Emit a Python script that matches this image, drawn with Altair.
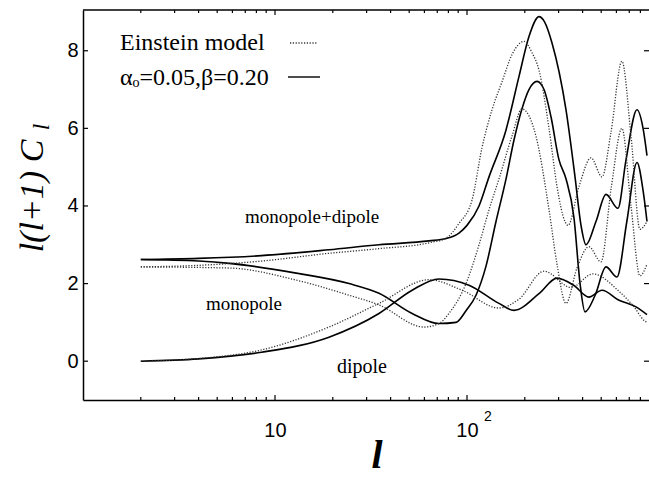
import altair as alt
import pandas as pd

# Plot-area size in pixels
W, H = 566, 390

# ---- angular power spectra l(l+1)C_l ----
# alpha0 = 0.05, beta = 0.20 model (solid)
l_md_ab = [2.0, 4.0, 8.5, 19.1, 34.8, 63.4, 77.8, 90.8, 100, 115.5, 130.2, 159.7, 186.6, 210.3,
           237.1, 253.0, 277.2, 327.7, 365.2, 392.5, 416.6, 469.6, 529.7, 611, 673, 768, 826, 866]
cl_md_ab = [2.62, 2.65, 2.72, 2.87, 3.0, 3.1, 3.16, 3.3, 3.5, 4.0, 4.75, 5.96, 7.34, 8.37,
            8.88, 8.75, 8.2, 6.48, 4.75, 3.5, 3.0, 3.6, 4.3, 3.94, 5.18, 6.48, 6.0, 5.3]

l_mono_ab = [2.0, 4.0, 5.8, 12.9, 24.3, 34.8, 51.8, 71.5, 87.7, 98.8, 111.4, 125.6, 141.6, 159.7,
             175.7, 193.2, 210.3, 231.6, 251.8, 273.8, 301, 327.7, 360.6, 388, 411.7, 465, 529.7,
             604, 680, 768, 826, 866]
cl_mono_ab = [2.62, 2.58, 2.52, 2.27, 2.0, 1.75, 1.23, 0.97, 1.0, 1.3, 1.7, 2.45, 3.6, 4.7,
              5.7, 6.5, 7.0, 7.21, 7.0, 6.3, 5.2, 4.7, 3.7, 2.0, 1.27, 1.7, 2.43,
              2.17, 3.6, 5.12, 4.4, 3.6]

l_dip_ab = [2.0, 4.0, 8.5, 19.1, 34.8, 51.8, 71.5, 102.4, 146.8, 175.7, 237.1, 294.3, 360.6,
            431.5, 504.6, 619, 759, 866]
cl_dip_ab = [0.0, 0.06, 0.23, 0.62, 1.23, 1.83, 2.12, 1.96, 1.49, 1.31, 1.74, 2.14, 1.95,
             1.65, 1.83, 1.57, 1.4, 1.2]

# Einstein model (dotted)
l_md_e = [2.0, 4.0, 8.5, 19.1, 34.8, 63.4, 77.8, 90.8, 106.2, 119.7, 135, 152.2, 171.5, 198.1,
          218.1, 237.1, 267.4, 294.3, 323.8, 335.7, 383, 442.6, 504.6, 562.3, 641, 715, 796, 866]
cl_md_e = [2.43, 2.47, 2.58, 2.78, 2.9, 3.05, 3.17, 3.55, 4.15, 5.5, 6.48, 7.2, 7.9, 8.24,
           7.95, 7.5, 6.0, 4.5, 3.6, 3.5, 4.5, 5.24, 4.75, 5.9, 7.73, 5.8, 3.4, 3.6]

l_mono_e = [2.0, 5.8, 12.9, 24.3, 34.8, 59.7, 71.5, 80.5, 98.8, 115.5, 130.2, 146.8, 171.5,
            193.2, 228.6, 267.4, 294.3, 327.7, 374, 431.5, 498.8, 565, 641, 715, 796, 866]
cl_mono_e = [2.43, 2.4, 2.09, 1.7, 1.45, 0.88, 0.97, 1.23, 2.0, 3.0, 3.9, 4.7, 5.8,
             6.5, 5.8, 3.9, 2.5, 1.49, 2.4, 2.95, 2.56, 4.5, 6.0, 4.0, 2.2, 2.5]

l_dip_e = [2.0, 4.0, 8.5, 19.1, 34.8, 63.4, 94.2, 146.8, 186.6, 251.8, 348.3, 453, 619, 741,
           836, 866]
cl_dip_e = [0.0, 0.07, 0.29, 0.88, 1.49, 2.1, 1.83, 1.37, 1.6, 2.32, 1.9, 2.25, 1.8, 1.4,
            1.05, 1.0]

# Axis tick positions
x_major = [10, 100]
x_minor = [2, 3, 4, 5, 6, 7, 8, 9, 20, 30, 40, 50, 60, 70, 80, 90,
           200, 300, 400, 500, 600, 700, 800]
y_ticks = [0, 2, 4, 6, 8]


def frame(l, cl, comp):
    return pd.DataFrame({"l": l, "cl": cl, "component": comp})


solid_df = pd.concat([
    frame(l_md_ab, cl_md_ab, "monopole+dipole"),
    frame(l_mono_ab, cl_mono_ab, "monopole"),
    frame(l_dip_ab, cl_dip_ab, "dipole"),
])
dotted_df = pd.concat([
    frame(l_md_e, cl_md_e, "monopole+dipole"),
    frame(l_mono_e, cl_mono_e, "monopole"),
    frame(l_dip_e, cl_dip_e, "dipole"),
])

x_scale = alt.Scale(type="log", domain=[1, 887], nice=False)
y_scale = alt.Scale(domain=[-1, 9.05], nice=False, zero=False)

SANS = "Liberation Sans"
SERIF = "Liberation Serif"

x_axis = alt.Axis(values=x_major, labelExpr="'10'", ticks=False, grid=False,
                  domainColor="black", domainWidth=1.5, labelFont=SANS,
                  labelFontSize=20, labelColor="black", labelPadding=20)
y_axis = alt.Axis(values=y_ticks, ticks=False, grid=False, domainColor="black",
                  domainWidth=1.5, labelFont=SANS, labelFontSize=20,
                  labelColor="black", labelPadding=5)

# Solid curves carry the axes; the other layers share those scales.
solid = alt.Chart(solid_df).mark_line(
    color="black", strokeWidth=1.6, interpolate="monotone"
).encode(
    x=alt.X("l:Q", scale=x_scale, axis=x_axis, title=None),
    y=alt.Y("cl:Q", scale=y_scale, axis=y_axis, title=None),
    detail="component:N",
)

dotted = alt.Chart(dotted_df).mark_line(
    color="#333333", strokeWidth=1.3, strokeDash=[1.2, 1.6], interpolate="monotone"
).encode(
    x=alt.X("l:Q", scale=x_scale, title=None),
    y=alt.Y("cl:Q", scale=y_scale, title=None),
    detail="component:N",
)


# Inward-pointing ticks on all four sides
def xticks(vals, y0, y1):
    return alt.Chart(pd.DataFrame({"l": vals})).mark_rule(
        color="black", strokeWidth=1.2
    ).encode(
        x=alt.X("l:Q", scale=x_scale, title=None),
        y=alt.value(y0), y2=alt.value(y1),
    )


def yticks(x0, x1):
    return alt.Chart(pd.DataFrame({"cl": y_ticks})).mark_rule(
        color="black", strokeWidth=1.2
    ).encode(
        y=alt.Y("cl:Q", scale=y_scale, title=None),
        x=alt.value(x0), x2=alt.value(x1),
    )


one = pd.DataFrame({"k": [0]})

top_line = alt.Chart(one).mark_rule(color="black", strokeWidth=1.5).encode(
    x=alt.value(0), x2=alt.value(W), y=alt.value(0)
)


def label(text, x, y, size, font=SERIF, **kw):
    return alt.Chart(one).mark_text(
        text=text, font=font, fontSize=size, color="black",
        align=kw.pop("align", "left"), baseline="alphabetic", **kw
    ).encode(x=alt.value(x), y=alt.value(y))


# Legend samples
leg_dotted = alt.Chart(one).mark_rule(
    color="#333333", strokeWidth=1.3, strokeDash=[1.2, 1.6]
).encode(x=alt.value(207), x2=alt.value(235), y=alt.value(33))
leg_solid = alt.Chart(one).mark_rule(color="black", strokeWidth=1.4).encode(
    x=alt.value(205), x2=alt.value(237), y=alt.value(67)
)

layers = [
    solid, dotted,
    xticks(x_major, H, H - 5), xticks(x_minor, H, H - 3),
    xticks(x_major, 0, 5), xticks(x_minor, 0, 3),
    yticks(0, 5), yticks(W, W - 5),
    top_line,
    label("Einstein model", 37, 40, 24),
    label("αₒ=0.05,β=0.20", 37, 75, 24),
    leg_dotted, leg_solid,
    label("monopole+dipole", 162, 213, 19),
    label("monopole", 123, 300, 19),
    label("dipole", 254, 363, 20),
    label("2", 405, 411, 14, font=SANS, align="center"),
    label("l(l+1) C", -40, 186, 34, fontStyle="italic", angle=270, align="center"),
    label("l", -34, 117, 23, fontStyle="italic", angle=270, align="center"),
    label("l", 294, 458, 40, fontStyle="italic", fontWeight="bold", align="center"),
]

chart = alt.layer(*layers).properties(
    width=W, height=H,
    autosize=alt.AutoSizeParams(type="none"),
    padding={"left": 83, "top": 10, "right": 0, "bottom": 78},
    background="white",
).configure_view(strokeWidth=0).configure_axis(grid=False)

chart.save("out.html", embed_options={"renderer": "svg", "actions": False})
